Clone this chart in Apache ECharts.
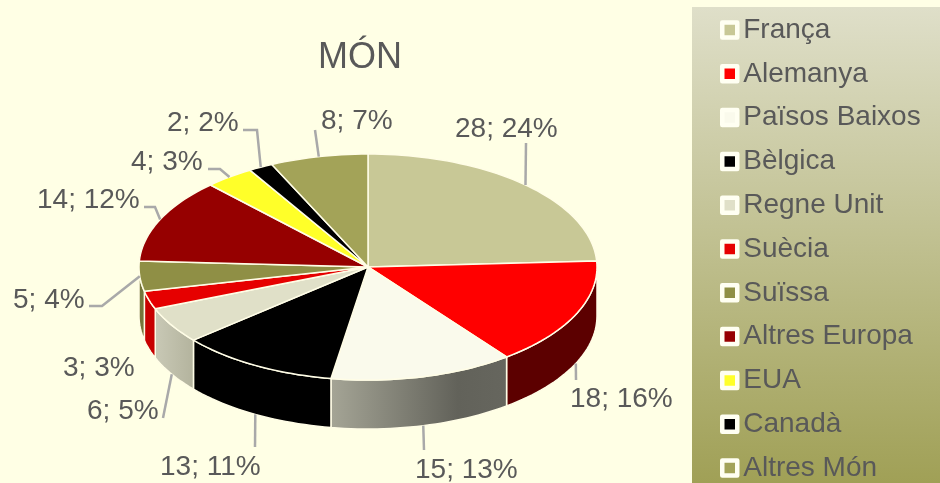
<!DOCTYPE html>
<html><head><meta charset="utf-8">
<style>html,body{margin:0;padding:0;background:#ffffe5}#c{width:940px;height:483px}</style>
<script src="https://cdn.jsdelivr.net/npm/echarts@6/dist/echarts.min.js"></script>
</head><body><div id="c"></div>
<script>
const categories = ['França','Alemanya','Països Baixos','Bèlgica','Regne Unit','Suècia','Suïssa','Altres Europa','EUA','Canadà','Altres Món'];
const values = [28,18,15,13,6,3,5,14,4,2,8];
const percents = [24,16,13,11,5,3,4,12,3,2,7];
const topColors = ['#c8c896','#ff0000','#fafaec','#000000','#e0e0c8','#e60000','#8f8f45','#960000','#ffff29','#000000','#a3a358'];
const wallColors = ['#8c8c69','#5c0000',null,'#000000',null,'#c80000','#75753a','#690000','#b3b31d','#000000','#72723e'];

// layout
const CX=368, CY=267, RX=229, RY=113, DEPTH=49, STROKE='#fffde6', TEXT='#595959';
const labelBox = [[455,129],[570,399],[415,470],[160,467],[87,411],[63,368],[13,300],[37,200],[131,162],[167,123],[321,121]];
const leaderBends = [[[526,143]],[[576,380]],[[424,450]],[[255,447]],[[163,418]],null,[[102,306],[89,306]],[[155,207],[144,207]],[[220,169],[208,169]],[[257,130],[243,130]],[[315,130]]];

const total = values.reduce((a,b)=>a+b,0);
const starts = values.map((_,i)=>values.slice(0,i).reduce((a,b)=>a+b,0)/total*Math.PI*2);
const rim = a => [CX+RX*Math.sin(a), CY-RY*Math.cos(a)];
function arc(a0,a1){const n=Math.max(2,Math.ceil((a1-a0)/0.03));const p=[];for(let k=0;k<=n;k++)p.push(rim(a0+(a1-a0)*k/n));return p;}
function wallFill(i){
  if(i===2) return new echarts.graphic.LinearGradient(0,0,1,0,[{offset:0,color:'#a5a596'},{offset:0.72,color:'#62625a'},{offset:1,color:'#66665e'}]);
  if(i===4) return new echarts.graphic.LinearGradient(0,0,1,0,[{offset:0,color:'#c9c9b6'},{offset:1,color:'#b3b39d'}]);
  return wallColors[i];
}
function renderSlice(i){
  return function(params,api){
    const span = api.value(0)/total*Math.PI*2;
    const a0=starts[i], a1=a0+span, mid=a0+span/2;
    const kids=[];
    const w0=Math.max(a0,Math.PI/2), w1=Math.min(a1,Math.PI*1.5);
    if(w1>w0){
      const upper=arc(w0,w1);
      const lower=upper.slice().reverse().map(p=>[p[0],p[1]+DEPTH]);
      kids.push({type:'polygon',shape:{points:upper.concat(lower)},style:{fill:wallFill(i),stroke:STROKE,lineWidth:1.5}});
    }
    kids.push({type:'polygon',shape:{points:[[CX,CY]].concat(arc(a0,a1))},style:{fill:topColors[i],stroke:STROKE,lineWidth:1.5,lineJoin:'round'}});
    if(leaderBends[i]){
      const s=rim(mid);
      if(Math.cos(mid)<-0.2) s[1]+=DEPTH;
      kids.push({type:'polyline',shape:{points:[s].concat(leaderBends[i])},style:{fill:null,stroke:'#a9a9a9',lineWidth:2.5}});
    }
    kids.push({type:'text',x:labelBox[i][0],y:labelBox[i][1],style:{text:values[i]+'; '+percents[i]+'%',fill:TEXT,fontFamily:'Liberation Sans',fontSize:28,verticalAlign:'middle',align:'left'}});
    return {type:'group',children:kids};
  };
}
const chart=echarts.init(document.getElementById('c'),null,{renderer:'canvas'});
chart.setOption({
  animation:false,
  backgroundColor:'#ffffe5',
  title:{text:'MÓN',left:318,top:40,padding:0,textStyle:{color:TEXT,fontFamily:'Liberation Sans',fontSize:36,fontWeight:'normal'}},
  graphic:[{type:'rect',left:692,top:7,z:-1,silent:true,shape:{width:248,height:476},
    style:{fill:new echarts.graphic.LinearGradient(0,0,0,1,[{offset:0,color:'#dfdfc9'},{offset:1,color:'#a0a056'}])}}],
  legend:{orient:'vertical',left:720,top:16,padding:0,itemWidth:15,itemHeight:15,itemGap:15.8,icon:'rect',selectedMode:false,
    itemStyle:{borderColor:'#fffff2',borderWidth:4.5,borderJoin:'round'},
    textStyle:{color:TEXT,fontFamily:'Liberation Sans',fontSize:28,padding:[0,0,0,1]},
    data:categories},
  series:categories.map((name,i)=>({
    type:'custom',name,coordinateSystem:'none',silent:true,clip:false,
    itemStyle:{color:topColors[i]},
    renderItem:renderSlice(i),
    data:[[values[i]]]
  }))
});
</script></body></html>
